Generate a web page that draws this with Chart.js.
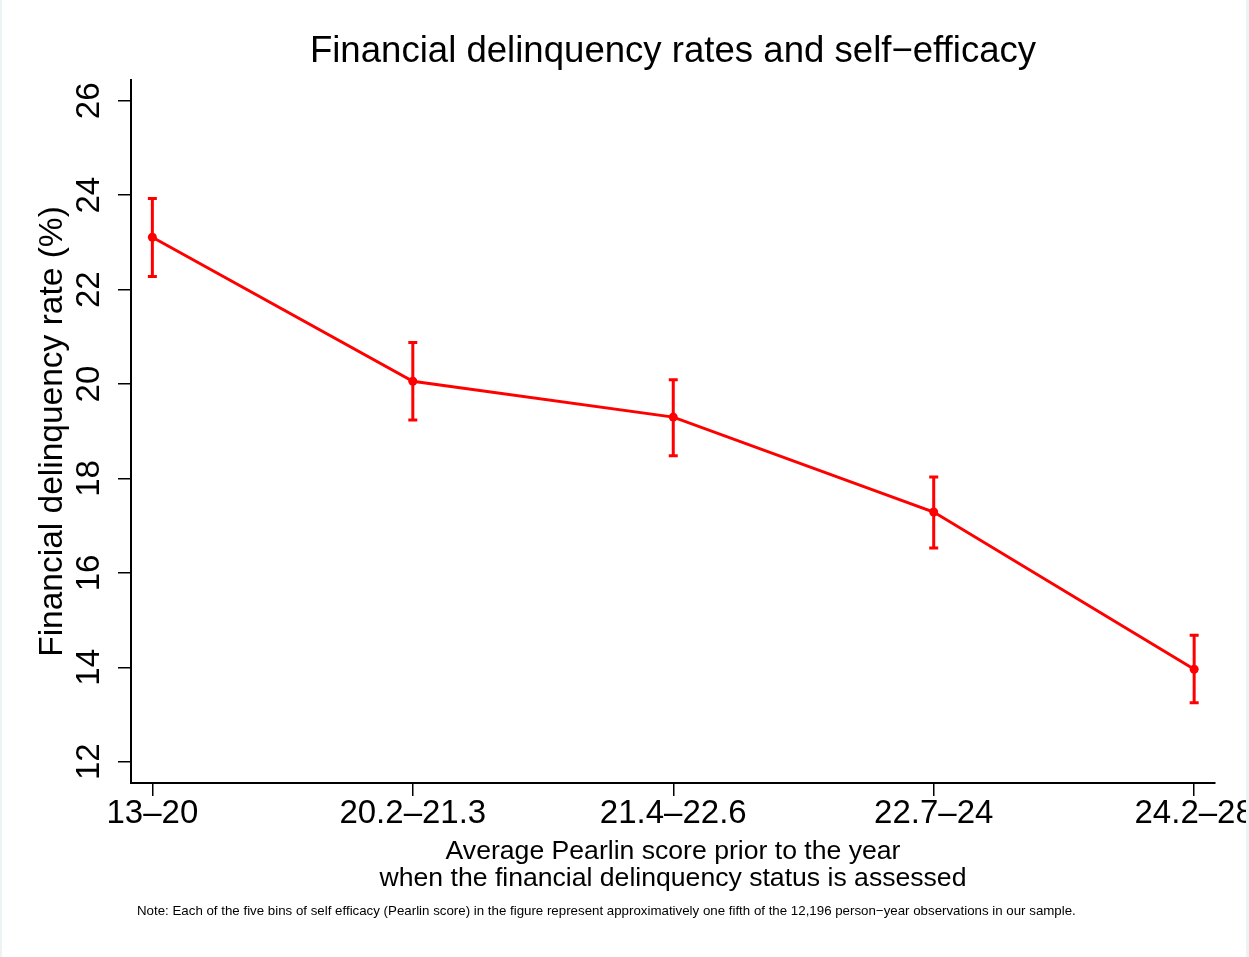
<!DOCTYPE html>
<html>
<head>
<meta charset="utf-8">
<title>Financial delinquency rates and self-efficacy</title>
<script src="https://cdn.jsdelivr.net/npm/chart.js@4/dist/chart.umd.min.js"></script>
<style>
  html, body { margin: 0; padding: 0; background: #fff; overflow: hidden; }
  #wrap { position: relative; width: 1249px; height: 957px; }
  #myChart { display: block; }
  .edge { position: absolute; top: 0; height: 957px; background: #edf2f5; }
</style>
</head>
<body>
<div id="wrap">
  <canvas id="myChart" width="1249" height="957"></canvas>
  <div class="edge" style="left:0;width:2px"></div>
  <div class="edge" style="left:1246px;width:3px"></div>
</div>
<script>
"use strict";
// Pearlin score bins (x categories)
const bins = ["13\u201320", "20.2\u201321.3", "21.4\u201322.6", "22.7\u201324", "24.2\u201328"];
// delinquency rate (%) and its confidence interval
const rates = [23.11, 20.06, 19.30, 17.29, 13.96];
const lower = [22.28, 19.24, 18.48, 16.53, 13.25];
const upper = [23.93, 20.88, 20.09, 18.03, 14.68];
const yTicks = [12, 14, 16, 18, 20, 22, 24, 26];

const titleText = "Financial delinquency rates and self\u2212efficacy";
const yTitle = "Financial delinquency rate (%)";
const xTitle = ["Average Pearlin score prior to the year", "when the financial delinquency status is assessed"];
const noteText = "Note: Each of the five bins of self efficacy (Pearlin score) in the figure represent approximatively one fifth of the 12,196 person\u2212year observations in our sample.";

const FONT = "'Liberation Sans', Arial, Helvetica, sans-serif";
const red = "#ff0000";

// error bars, drawn through the chart's own scales
const errorBars = {
    id: "errorBars",
    afterDatasetsDraw(chart) {
        const ctx = chart.ctx;
        const xs = chart.scales.x;
        const ys = chart.scales.y;
        ctx.save();
        ctx.strokeStyle = red;
        ctx.lineWidth = 3;
        for (let i = 0; i < rates.length; i++) {
            const px = xs.getPixelForValue(i);
            const top = ys.getPixelForValue(upper[i]);
            const bot = ys.getPixelForValue(lower[i]);
            ctx.beginPath();
            ctx.moveTo(px, top);
            ctx.lineTo(px, bot);
            ctx.moveTo(px - 4.5, top);
            ctx.lineTo(px + 4.5, top);
            ctx.moveTo(px - 4.5, bot);
            ctx.lineTo(px + 4.5, bot);
            ctx.stroke();
        }
        ctx.restore();
    }
};

// vertical y tick labels (Stata style) and the note
const extraText = {
    id: "extraText",
    afterDraw(chart) {
        const ctx = chart.ctx;
        const ys = chart.scales.y;
        ctx.save();
        ctx.fillStyle = "#000";
        ctx.font = "33px " + FONT;
        ctx.textAlign = "center";
        ctx.textBaseline = "middle";
        ys.ticks.forEach(t => {
            const py = ys.getPixelForValue(t.value);
            ctx.save();
            ctx.translate(89.5, py);
            ctx.rotate(-Math.PI / 2);
            ctx.fillText(String(t.value), 0, 0);
            ctx.restore();
        });
        ctx.font = "13.3px " + FONT;
        ctx.textAlign = "left";
        ctx.fillText(noteText, 137, 911);
        ctx.restore();
    }
};

const chart = new Chart("myChart", {
    type: "line",
    data: {
        datasets: [{
            data: rates.map((v, i) => ({ x: i, y: v })),
            borderColor: red,
            backgroundColor: red,
            borderWidth: 3,
            pointRadius: 4.5,
            pointBorderWidth: 0,
            pointBackgroundColor: red,
            tension: 0,
            clip: false
        }]
    },
    options: {
        responsive: false,
        animation: false,
        layout: { padding: { left: 0, right: 34, top: 0, bottom: 0 } },
        plugins: {
            legend: { display: false },
            tooltip: { enabled: false },
            title: {
                display: true,
                text: titleText,
                fullSize: false,
                color: "#000",
                font: { family: FONT, size: 36.6, weight: "normal", lineHeight: 1.2 },
                padding: { top: 30.2, bottom: 5.9 }
            }
        },
        scales: {
            x: {
                type: "linear",
                min: -0.082,
                max: 4.08,
                afterFit(scale) {
                    scale.height = 174;
                    // let the last label run off the edge, as in the original
                    scale.paddingLeft = 0;
                    scale.paddingRight = 0;
                },
                afterBuildTicks(scale) { scale.ticks = bins.map((b, i) => ({ value: i })); },
                border: { color: "#000", width: 2 },
                grid: { drawOnChartArea: false, drawTicks: true, tickLength: 13, color: "#000", lineWidth: 1.5 },
                ticks: {
                    color: "#000",
                    padding: 0,
                    maxRotation: 0,
                    autoSkip: false,
                    font: { family: FONT, size: 33, lineHeight: 1.1 },
                    callback: v => bins[v]
                },
                title: {
                    display: true,
                    text: xTitle,
                    color: "#000",
                    font: { family: FONT, size: 26.6, lineHeight: 1.0 },
                    padding: { top: 0, bottom: 65.5 }
                }
            },
            y: {
                type: "linear",
                min: 11.55,
                max: 26.44,
                afterFit(scale) {
                    scale.width = 131;
                    scale.paddingTop = 0;
                    scale.paddingBottom = 0;
                },
                afterBuildTicks(scale) { scale.ticks = yTicks.map(v => ({ value: v })); },
                border: { color: "#000", width: 2 },
                grid: { drawOnChartArea: false, drawTicks: true, tickLength: 13, color: "#000", lineWidth: 1.5 },
                ticks: { display: false },
                title: {
                    display: true,
                    text: yTitle,
                    color: "#000",
                    font: { family: FONT, size: 33.5, lineHeight: 1.2 },
                    padding: { top: 33, bottom: 0 }
                }
            }
        }
    },
    plugins: [errorBars, extraText]
});
</script>
</body>
</html>
